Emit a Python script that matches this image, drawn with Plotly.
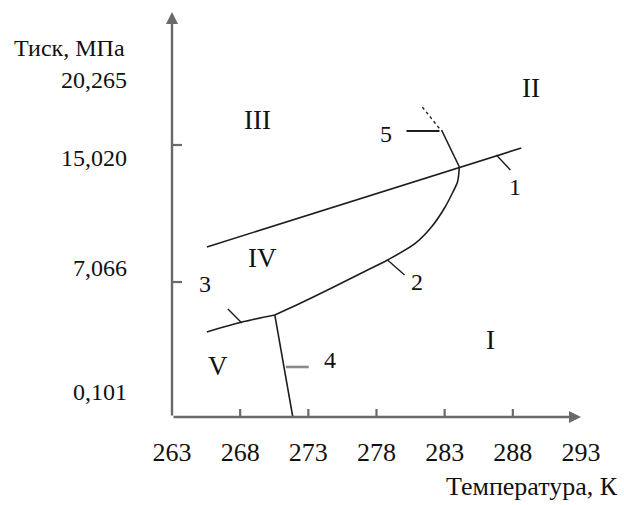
import plotly.graph_objects as go

# ---- data (temperature in K, pressure in schematic axis units 0..100) ----
line1_T = [265.56, 288.62]
line1_P = [41.98, 66.42]

line2_T = [284.08, 283.94, 283.57, 282.99, 282.03, 280.79, 278.81, 277.13, 274.71, 272.37, 270.54]
line2_P = [61.73, 58.02, 55.31, 51.60, 46.91, 42.72, 38.77, 35.93, 31.85, 28.02, 25.19]

line3_T = [265.56, 268.20, 270.54]
line3_P = [20.99, 23.50, 25.19]

line4_T = [270.54, 271.86]
line4_P = [25.19, 0.0]

line5_T = [284.08, 282.77]
line5_P = [61.73, 70.86]
line5_dot_T = [282.60, 281.30]
line5_dot_P = [71.30, 76.79]

# leader ticks for curve numbers: (T0, P0, T1, P1)
leader_1 = [286.79, 64.69, 287.82, 60.99]
leader_2 = [278.81, 38.77, 280.06, 35.06]
leader_3 = [267.10, 26.67, 268.12, 23.21]
leader_4 = [271.35, 12.35, 273.03, 12.35]
leader_5 = [280.20, 70.62, 282.62, 70.62]

curve_labels = ["1", "2", "3", "4", "5"]
curve_label_T = [288.18, 280.94, 265.42, 274.57, 278.67]
curve_label_P = [56.79, 33.33, 32.84, 14.07, 69.88]

region_labels = ["I", "II", "III", "IV", "V"]
region_T = [286.35, 289.35, 269.30, 269.66, 266.37]
region_P = [19.01, 81.23, 73.33, 39.26, 12.59]

x_tick_vals = [263, 268, 273, 278, 283, 288, 293]
x_tick_text = ["263", "268", "273", "278", "283", "288", "293"]
x_tick_marks = [268, 273, 278, 283, 288]

y_tick_vals = [83.21, 63.95, 36.79, 6.17]
y_tick_text = ["20,265", "15,020", "7,066", "0,101"]
y_tick_marks = [67.16, 33.33]

x_range = [263, 293]
y_range = [0, 100]

x_title = "Температура, К"
y_title = "Тиск, МПа"

FONT = "Liberation Serif, Times New Roman, serif"
DARK = "#1e1e1e"
AXIS = "#6a6a6a"

fig = go.Figure()

def add_line(xs, ys, color=DARK, width=1.6, dash="solid", shape="linear"):
    fig.add_trace(go.Scatter(x=xs, y=ys, mode="lines", hoverinfo="skip",
                             line=dict(color=color, width=width, dash=dash, shape=shape,
                                       smoothing=0.8 if shape == "spline" else None),
                             showlegend=False))

add_line(line1_T, line1_P)
add_line(line2_T, line2_P, shape="spline")
add_line(line3_T, line3_P, shape="spline")
add_line(line4_T, line4_P)
add_line(line5_T, line5_P)
add_line(line5_dot_T, line5_dot_P, dash="dot", width=1.4)

for ld, col, w in [(leader_1, DARK, 1.4), (leader_2, DARK, 1.4), (leader_3, DARK, 1.4),
                   (leader_4, "#8a8a8a", 2.6), (leader_5, DARK, 1.8)]:
    add_line([ld[0], ld[2]], [ld[1], ld[3]], color=col, width=w)

for t, x, y in zip(curve_labels, curve_label_T, curve_label_P):
    fig.add_annotation(x=x, y=y, text=t, showarrow=False,
                       font=dict(family=FONT, size=24, color="#111"))
for t, x, y in zip(region_labels, region_T, region_P):
    fig.add_annotation(x=x, y=y, text=t, showarrow=False,
                       font=dict(family=FONT, size=27, color="#111"))

# axes with arrows
fig.add_annotation(x=x_range[1], y=y_range[0], ax=x_range[0], ay=y_range[0],
                   xref="x", yref="y", axref="x", ayref="y", text="",
                   showarrow=True, arrowhead=2, arrowsize=1.0, arrowwidth=2.4,
                   arrowcolor=AXIS)
fig.add_annotation(x=x_range[0], y=y_range[1], ax=x_range[0], ay=y_range[0],
                   xref="x", yref="y", axref="x", ayref="y", text="",
                   showarrow=True, arrowhead=2, arrowsize=1.0, arrowwidth=2.4,
                   arrowcolor=AXIS)

for xv in x_tick_marks:
    fig.add_shape(type="line", xref="x", yref="y", x0=xv, x1=xv,
                  ysizemode="pixel", yanchor=y_range[0], y0=0, y1=8,
                  line=dict(color=AXIS, width=2.2))
for yv in y_tick_marks:
    fig.add_shape(type="line", xref="x", yref="y", y0=yv, y1=yv,
                  xsizemode="pixel", xanchor=x_range[0], x0=0, x1=10,
                  line=dict(color=AXIS, width=2.2))

fig.add_annotation(x=1.0954, y=-0.1728, xref="paper", yref="paper", text=x_title,
                   showarrow=False, xanchor="right", yanchor="middle",
                   font=dict(family=FONT, size=26, color="#111"))
fig.add_annotation(x=-0.391, y=0.911, xref="paper", yref="paper", text=y_title,
                   showarrow=False, xanchor="left", yanchor="middle",
                   font=dict(family=FONT, size=24, color="#111"))

fig.update_xaxes(range=x_range, tickvals=x_tick_vals, ticktext=x_tick_text,
                 ticks="", showgrid=False, zeroline=False, showline=False,
                 ticklabelstandoff=17,
                 tickfont=dict(family=FONT, size=26, color="#111"))
fig.update_yaxes(range=y_range, tickvals=y_tick_vals, ticktext=y_tick_text,
                 ticks="", showgrid=False, zeroline=False, showline=False,
                 ticklabelstandoff=44,
                 tickfont=dict(family=FONT, size=24, color="#111"))

fig.update_layout(width=624, height=505, autosize=False,
                  margin=dict(l=172, r=43, t=12, b=88, pad=0),
                  plot_bgcolor="white", paper_bgcolor="white",
                  showlegend=False)

fig.write_html("out.html", config={"displayModeBar": False},
               post_script="document.body.style.margin='0px';")
